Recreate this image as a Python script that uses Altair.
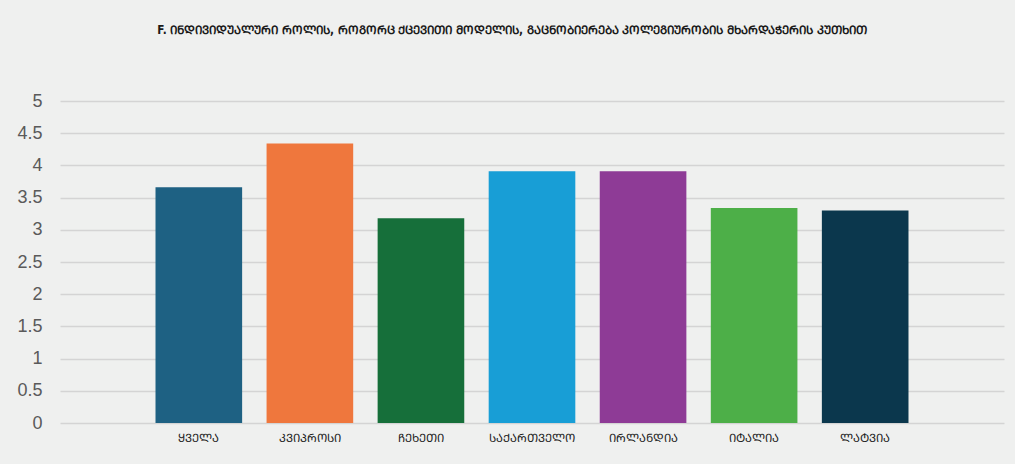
import altair as alt
import pandas as pd

title = "F. ᲘᲜᲓᲘᲕᲘᲓᲣᲐᲚᲣᲠᲘ ᲠᲝᲚᲘᲡ, ᲠᲝᲒᲝᲠᲪ ᲥᲪᲔᲕᲘᲗᲘ ᲛᲝᲓᲔᲚᲘᲡ, ᲒᲐᲪᲜᲝᲑᲘᲔᲠᲔᲑᲐ ᲙᲝᲚᲔᲒᲘᲣᲠᲝᲑᲘᲡ ᲛᲮᲐᲠᲓᲐᲭᲔᲠᲘᲡ ᲙᲣᲗᲮᲘᲗ"
countries = ["ᲧᲕᲔᲚᲐ", "ᲙᲕᲘᲞᲠᲝᲡᲘ", "ᲩᲔᲮᲔᲗᲘ", "ᲡᲐᲥᲐᲠᲗᲕᲔᲚᲝ", "ᲘᲠᲚᲐᲜᲓᲘᲐ", "ᲘᲢᲐᲚᲘᲐ", "ᲚᲐᲢᲕᲘᲐ"]
values = [3.66, 4.34, 3.18, 3.91, 3.91, 3.34, 3.30]
colors = ["#1e6183", "#ef773d", "#166f3a", "#189ed6", "#8e3b96", "#4daf48", "#0b374d"]
y_ticks = [0, 0.5, 1, 1.5, 2, 2.5, 3, 3.5, 4, 4.5, 5]

df = pd.DataFrame({"country": countries, "value": values})

chart = alt.Chart(df).mark_bar().encode(
    x=alt.X("country:N", sort=countries,
            scale=alt.Scale(paddingInner=0.22, paddingOuter=0.86),
            axis=alt.Axis(title=None, labelAngle=0, domain=False, ticks=False,
                          labelPadding=9, labelFontSize=11.5, labelColor="#222222",
                          labelFont="DejaVu Sans Condensed")),
    y=alt.Y("value:Q", scale=alt.Scale(domain=[0, 5], nice=False),
            axis=alt.Axis(title=None, values=y_ticks, format="~g", domain=False, ticks=False,
                          labelPadding=18, labelFontSize=18, labelColor="#5a5a5a",
                          labelFont="Liberation Sans", gridColor="#d4d4d4", gridWidth=1.5)),
    color=alt.Color("country:N", sort=countries,
                    scale=alt.Scale(domain=countries, range=colors), legend=None),
).properties(
    width=944, height=322,
    autosize="none",
    padding={"left": 60, "top": 101, "right": 11, "bottom": 41},
    background="#eff0ef",
    title=alt.TitleParams(title, fontSize=11.7, font="DejaVu Sans Condensed", fontWeight="bold",
                          color="#1a1a1a", offset=55, anchor="middle", dx=-20),
).configure_view(stroke=None)

chart.save("out.html", embed_options={"renderer": "svg", "actions": False})
